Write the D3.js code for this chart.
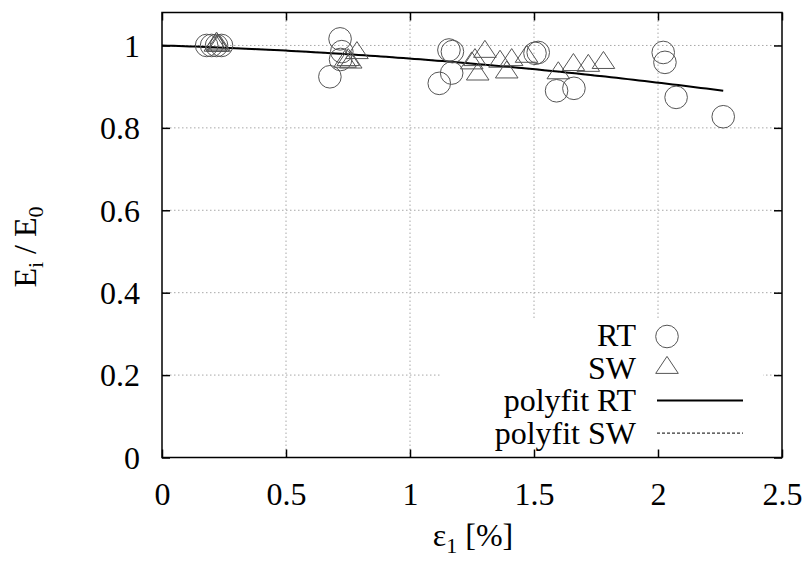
<!DOCTYPE html>
<html>
<head>
<meta charset="utf-8">
<script src="https://cdn.jsdelivr.net/npm/d3@7"></script>
<style>
  html, body { margin: 0; padding: 0; background: #fff; }
  svg { display: block; }
  text { font-family: "Liberation Serif", "DejaVu Serif", serif; fill: #000; }
</style>
</head>
<body>
<svg id="chart" width="809" height="561"></svg>
<script>
// Modulus ratio E_i/E_0 versus axial strain, two test series
const rtStrain = [0.18, 0.20, 0.22, 0.24, 0.677, 0.718, 0.725, 0.72, 1.118, 1.157, 1.171, 1.168, 1.504, 1.517, 1.591, 1.661, 2.021, 2.028, 2.073, 2.263];
const rtRatio  = [1.0, 1.0, 1.0, 1.0, 0.924, 1.016, 0.985, 0.966, 0.908, 0.989, 0.985, 0.933, 0.981, 0.983, 0.89, 0.896, 0.983, 0.959, 0.874, 0.827];

const swStrain = [0.215, 0.22, 0.225, 0.23, 0.738, 0.751, 0.761, 0.786, 1.249, 1.262, 1.273, 1.302, 1.363, 1.39, 1.41, 1.47, 1.598, 1.659, 1.719, 1.78];
const swRatio  = [1.0, 1.005, 1.0, 1.0, 0.961, 0.965, 0.959, 0.982, 0.957, 0.965, 0.93, 0.985, 0.961, 0.935, 0.965, 0.973, 0.933, 0.953, 0.951, 0.958];

// quadratic fits: ratio = c0 + c1*e + c2*e^2, evaluated over [0, max strain]
const rtFit = [1.0, -0.01845, -0.01333];
const swFit = [1.0, -0.01845, -0.01333];

const xTicks = [0, 0.5, 1, 1.5, 2, 2.5];
const yTicks = [0, 0.2, 0.4, 0.6, 0.8, 1];
const legendLabels = ["RT", "SW", "polyfit RT", "polyfit SW"];

const svg = d3.select("#chart");
const pL = 162, pR = 782, pT = 12.5, pB = 457.5;
const x = d3.scaleLinear().domain([0, 2.5]).range([pL, pR]);
const y = d3.scaleLinear().domain([0, 1.08]).range([pB, pT]);
const fs = 32;

// grid
const gridStyle = g => g.attr("stroke", "#a8a8a8").attr("stroke-width", 1).attr("stroke-dasharray", "1.5,2.5").attr("fill", "none");
const grid = svg.append("g");
grid.selectAll("line.gx").data(xTicks.slice(1, -1)).join("line")
  .attr("x1", d => x(d)).attr("x2", d => x(d)).attr("y1", pT).attr("y2", pB).call(gridStyle);
grid.selectAll("line.gy").data(yTicks.slice(1)).join("line")
  .attr("x1", pL).attr("x2", pR).attr("y1", d => y(d)).attr("y2", d => y(d)).call(gridStyle);

// key backdrop clears the grid beneath it
const keyBox = { x0: 441, x1: 763, y0: 319, y1: pB };
svg.append("rect").attr("x", keyBox.x0).attr("y", keyBox.y0)
  .attr("width", keyBox.x1 - keyBox.x0).attr("height", keyBox.y1 - keyBox.y0).attr("fill", "#fff");

// fitted curves
const poly = (c, e) => c[0] + c[1] * e + c[2] * e * e;
const fitLine = (c, maxE) => d3.range(0, 101).map(i => { const e = maxE * i / 100; return [x(e), y(poly(c, e))]; });
const line = d3.line();
svg.append("path").attr("d", line(fitLine(swFit, d3.max(swStrain))))
  .attr("fill", "none").attr("stroke", "#000").attr("stroke-width", 1).attr("stroke-dasharray", "3,2");
svg.append("path").attr("d", line(fitLine(rtFit, d3.max(rtStrain))))
  .attr("fill", "none").attr("stroke", "#000").attr("stroke-width", 2);

// symbols
const R = 11.3;
const triPath = (cx, cy) => `M${cx},${cy - 11.3}L${cx + 11.3},${cy + 5.7}L${cx - 11.3},${cy + 5.7}Z`;
const markStroke = "#555";
svg.append("g").selectAll("circle").data(rtStrain.map((e, i) => [e, rtRatio[i]])).join("circle")
  .attr("cx", d => x(d[0])).attr("cy", d => y(d[1])).attr("r", R)
  .attr("fill", "none").attr("stroke", markStroke).attr("stroke-width", 1);
svg.append("g").selectAll("path").data(swStrain.map((e, i) => [e, swRatio[i]])).join("path")
  .attr("d", d => triPath(x(d[0]), y(d[1])))
  .attr("fill", "none").attr("stroke", markStroke).attr("stroke-width", 1);

// key
const keyTextX = 636, keySymX = 667, keyRow0 = 335, keyStep = 32.7;
legendLabels.forEach((lab, i) => {
  const cy = keyRow0 + i * keyStep;
  svg.append("text").attr("x", keyTextX).attr("y", cy + 11).attr("text-anchor", "end")
    .attr("font-size", fs).text(lab);
  if (i === 0) {
    svg.append("circle").attr("cx", keySymX).attr("cy", cy + 1.5).attr("r", R)
      .attr("fill", "none").attr("stroke", markStroke).attr("stroke-width", 1);
  } else if (i === 1) {
    svg.append("path").attr("d", triPath(keySymX, cy)).attr("fill", "none")
      .attr("stroke", markStroke).attr("stroke-width", 1);
  } else {
    svg.append("line").attr("x1", 657).attr("x2", 743).attr("y1", cy).attr("y2", cy)
      .attr("stroke", "#000").attr("stroke-width", i === 2 ? 2 : 1)
      .attr("stroke-dasharray", i === 2 ? null : "3,2");
  }
});

// axes with inward ticks on all four sides
const tickLen = 8;
const axB = svg.append("g").attr("transform", `translate(0,${pB})`)
  .call(d3.axisBottom(x).tickValues(xTicks).tickSizeInner(-tickLen).tickSizeOuter(0).tickPadding(0).tickFormat(d3.format("")));
const axT = svg.append("g").attr("transform", `translate(0,${pT})`)
  .call(d3.axisTop(x).tickValues(xTicks).tickSizeInner(-tickLen).tickSizeOuter(0).tickFormat(""));
const axL = svg.append("g").attr("transform", `translate(${pL},0)`)
  .call(d3.axisLeft(y).tickValues(yTicks).tickSizeInner(-tickLen).tickSizeOuter(0).tickFormat(d3.format("")));
const axR = svg.append("g").attr("transform", `translate(${pR},0)`)
  .call(d3.axisRight(y).tickValues(yTicks).tickSizeInner(-tickLen).tickSizeOuter(0).tickFormat(""));
[axB, axT, axL, axR].forEach(a => {
  a.select(".domain").remove();
  a.selectAll(".tick line").attr("stroke", "#000").attr("stroke-width", 1.5);
  a.selectAll("text").attr("font-family", "Liberation Serif, serif").attr("font-size", fs).attr("fill", "#000");
});
axB.selectAll(".tick text").attr("y", 0).attr("dy", null).attr("transform", "translate(0,47)");
axL.selectAll(".tick text").attr("x", -22).attr("dy", "0.34em");

// frame
svg.append("rect").attr("x", pL).attr("y", pT).attr("width", pR - pL).attr("height", pB - pT)
  .attr("fill", "none").attr("stroke", "#000").attr("stroke-width", 1.5);

// axis titles
const yt = svg.append("text").attr("transform", "translate(36,247) rotate(-90)")
  .attr("text-anchor", "middle").attr("font-size", fs);
yt.append("tspan").text("E");
yt.append("tspan").attr("font-size", 22).attr("dy", 7).text("i");
yt.append("tspan").attr("dy", -7).text(" / E");
yt.append("tspan").attr("font-size", 22).attr("dy", 7).text("0");

const xt = svg.append("text").attr("x", 473).attr("y", 546).attr("text-anchor", "middle").attr("font-size", fs);
xt.append("tspan").text("ε");
xt.append("tspan").attr("font-size", 22).attr("dy", 7).text("1");
xt.append("tspan").attr("dy", -7).text(" [%]");
</script>
</body>
</html>
